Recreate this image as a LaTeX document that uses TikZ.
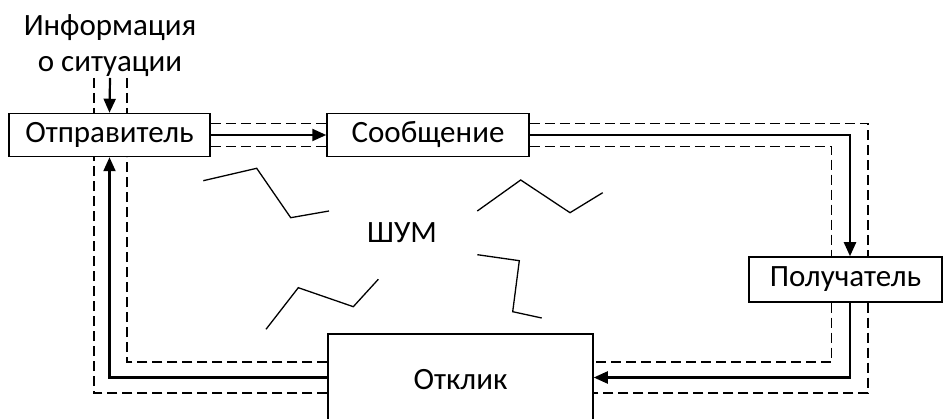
\documentclass[tikz,border=0pt]{standalone}
\usepackage{fontspec}
\setmainfont{Carlito}
\usetikzlibrary{arrows.meta, positioning, calc}

\begin{document}
\begin{tikzpicture}[
    x=1pt, y=1pt,
    every node/.style={font=\fontsize{31}{36}\selectfont},
    block/.style={draw, line width=1.5pt, inner sep=0pt},
    flow/.style={line width=2.2pt, -{Triangle[length=14pt, width=12pt]}},
    channel/.style={line width=1.5pt, dash pattern=on 10pt off 5pt},
    noise/.style={line width=1.3pt},
]
  \clip (0,0) rectangle (944,419);

  % Blocks
  \node[block, minimum width=201pt, minimum height=43pt] (sender) at (109.5,284) {Отправитель};
  \node[block, minimum width=202pt, minimum height=43pt] (message) at (428,284) {Сообщение};
  \node[block, minimum width=193pt, minimum height=45pt] (receiver) at (845.5,139.5) {Получатель};
  \node[block, minimum width=265pt, minimum height=92pt] (response) at (460.5,39) {Отклик};

  % Input
  \node[align=center] (info) at (110,373) {Информация\\о ситуации};
  \coordinate (in) at (110,341);
  \draw[flow] (in) -- (sender.north);
  \draw[channel] ([xshift=-16pt]in) -- ([xshift=-15.5pt]sender.north);
  \draw[channel] ([xshift=17pt]in) -- ([xshift=17.5pt]sender.north);

  % Sender -> message
  \draw[flow] (sender.east) -- (message.west);
  \draw[channel] ([yshift=11.5pt]sender.east) -- ([yshift=11.5pt]message.west);
  \draw[channel] ([yshift=-11.5pt]sender.east) -- ([yshift=-11.5pt]message.west);

  % Message -> receiver
  \draw[flow] (message.east) -| ([xshift=4.5pt]receiver.north);
  \draw[channel] ([yshift=11.5pt]message.east) -| ([xshift=22.5pt]receiver.north);
  \draw[channel] ([yshift=-11.5pt]message.east) -| ([xshift=-14pt]receiver.north);

  % Receiver -> response
  \draw[flow] ([xshift=4.5pt]receiver.south) |- ([yshift=2.5pt]response.east);
  \draw[channel] ([xshift=22.5pt]receiver.south) |- ([yshift=-13pt]response.east);
  \draw[channel] ([xshift=-14pt]receiver.south) |- ([yshift=18pt]response.east);

  % Response -> sender
  \draw[flow] ([yshift=2.5pt]response.west) -| (sender.south);
  \draw[channel] ([yshift=-13pt]response.west) -| ([xshift=-15.5pt]sender.south);
  \draw[channel] ([yshift=18pt]response.west) -| ([xshift=17.5pt]sender.south);

  % Noise
  \node (noisetext) at (402,186) {ШУМ};
  \draw[noise] (203.3,238.3) -- (256.7,250.7) -- (290.7,201.3) -- (329,208);
  \draw[noise] (477.3,208) -- (520.7,239) -- (570,206.3) -- (602.7,226.3);
  \draw[noise] (477.3,164.3) -- (519.3,158.3) -- (512.7,107.3) -- (541.7,101);
  \draw[noise] (266,89.7) -- (298.3,131.3) -- (353.3,112.3) -- (378.3,139.7);
\end{tikzpicture}
\end{document}
